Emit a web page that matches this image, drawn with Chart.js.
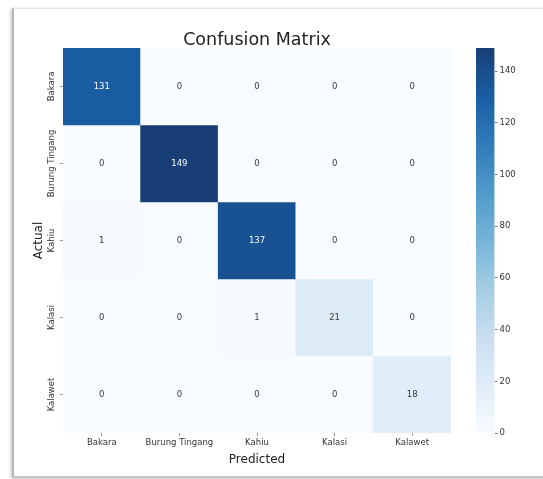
<!DOCTYPE html>
<html>
<head>
<meta charset="utf-8">
<script src="https://cdn.jsdelivr.net/npm/chart.js@4.4.1/dist/chart.umd.min.js"></script>
<style>
  html, body { margin: 0; padding: 0; background: #fff; width: 543px; height: 479px; overflow: hidden; }
  #card {
    position: absolute; left: 12px; top: 8px; width: 600px; height: 467px;
    background: #fff;
    border-left: 2px solid #b8b8b8;
    border-top: 1px solid #e2e2e2;
    border-bottom: 2px solid #c6c6c6;
    box-shadow: -1px 1px 3px rgba(0,0,0,0.25);
  }
  canvas { position: absolute; top: 0; }
  #cm { left: 0; }
  #cbar { left: 476px; }
</style>
</head>
<body>
<div id="card"></div>
<canvas id="cm" width="543" height="479"></canvas>
<canvas id="cbar" width="67" height="479"></canvas>
<script>
// Class names (shared by rows = actual and columns = predicted)
const classNames = ['Bakara', 'Burung Tingang', 'Kahiu', 'Kalasi', 'Kalawet'];

// Confusion counts, one row per actual class
const rowBakara        = [131,   0,   0,  0,  0];
const rowBurungTingang = [  0, 149,   0,  0,  0];
const rowKahiu         = [  1,   0, 137,  0,  0];
const rowKalasi        = [  0,   0,   1, 21,  0];
const rowKalawet       = [  0,   0,   0,  0, 18];
const counts = [rowBakara, rowBurungTingang, rowKahiu, rowKalasi, rowKalawet];

// Colour bar tick values
const colorbarTicks = [0, 20, 40, 60, 80, 100, 120, 140];

const FONT = 'DejaVu Sans';
Chart.defaults.font.family = FONT;

const vmax = Math.max(...counts.flat());

// "Blues" sequential colour map
const bluesStops = ['#f7fbff', '#deebf7', '#c6dbef', '#9ecae1', '#6baed6',
                    '#4292c6', '#2171b5', '#08519c', '#08306b'];
function hexRgb(h) {
  return [parseInt(h.slice(1, 3), 16), parseInt(h.slice(3, 5), 16), parseInt(h.slice(5, 7), 16)];
}
function bluesRgb(t) {
  t = Math.max(0, Math.min(1, t));
  const pos = t * (bluesStops.length - 1);
  const i = Math.min(Math.floor(pos), bluesStops.length - 2);
  const f = pos - i;
  const a = hexRgb(bluesStops[i]), b = hexRgb(bluesStops[i + 1]);
  // slight lift toward white
  return a.map((v, k) => {
    const c = v + (b[k] - v) * f;
    return c + (255 - c) * 0.07;
  });
}
function blues(t) {
  const c = bluesRgb(t).map(Math.round);
  return `rgb(${c[0]},${c[1]},${c[2]})`;
}
function luminance(rgb) {
  const l = rgb.map(v => {
    v /= 255;
    return v <= 0.03928 ? v / 12.92 : Math.pow((v + 0.055) / 1.055, 2.4);
  });
  return 0.2126 * l[0] + 0.7152 * l[1] + 0.0722 * l[2];
}

// Count written in the middle of each cell
const cellLabels = {
  id: 'cellLabels',
  afterDatasetsDraw(chart) {
    const ctx = chart.ctx;
    ctx.save();
    ctx.font = `8.5px "${FONT}"`;
    ctx.textAlign = 'center';
    ctx.textBaseline = 'middle';
    chart.data.datasets.forEach((ds, r) => {
      const meta = chart.getDatasetMeta(r);
      meta.data.forEach((bar, c) => {
        const v = counts[r][c];
        const p = bar.getProps(['x', 'y', 'base'], true);
        ctx.fillStyle = luminance(bluesRgb(v / vmax)) < 0.408 ? '#ffffff' : '#3a3a3a';
        ctx.fillText(String(v), p.x, (p.y + p.base) / 2);
      });
    });
    ctx.restore();
  }
};

// Vertical class names along the left axis
const rowTickLabels = {
  id: 'rowTickLabels',
  afterDraw(chart) {
    const ctx = chart.ctx;
    const ys = chart.scales.y;
    ctx.save();
    ctx.font = `8.5px "${FONT}"`;
    ctx.fillStyle = '#333';
    ctx.textAlign = 'center';
    ctx.textBaseline = 'middle';
    classNames.forEach((name, i) => {
      const y = ys.getPixelForValue(i + 0.5);
      ctx.save();
      ctx.translate(52, y);
      ctx.rotate(-Math.PI / 2);
      ctx.fillText(name, 0, 0);
      ctx.restore();
    });
    ctx.restore();
  }
};

// Title centred over the matrix
const matrixTitle = {
  id: 'matrixTitle',
  afterDraw(chart) {
    const ctx = chart.ctx;
    const a = chart.chartArea;
    ctx.save();
    ctx.font = `17.5px "${FONT}"`;
    ctx.fillStyle = '#222';
    ctx.textAlign = 'center';
    ctx.textBaseline = 'alphabetic';
    ctx.fillText('Confusion Matrix', (a.left + a.right) / 2, 45);
    ctx.restore();
  }
};

new Chart(document.getElementById('cm'), {
  type: 'bar',
  data: {
    labels: classNames,
    datasets: counts.map((row, r) => ({
      label: classNames[r],
      data: row.map(() => [r, r + 1]),
      backgroundColor: row.map(v => blues(v / vmax)),
      borderWidth: 0,
      borderSkipped: false,
      barPercentage: 1,
      categoryPercentage: 1,
      grouped: false
    }))
  },
  options: {
    responsive: false,
    animation: false,
    devicePixelRatio: 1,
    layout: { padding: { top: 48, right: 92, left: 0, bottom: 0 } },
    plugins: {
      legend: { display: false },
      tooltip: { enabled: false },
      title: { display: false }
    },
    scales: {
      x: {
        type: 'category',
        offset: true,
        grid: { display: true, drawOnChartArea: false, drawTicks: true, tickLength: 3, color: '#9a9a9a', offset: false },
        border: { display: false },
        ticks: { font: { family: FONT, size: 8.5 }, color: '#333', padding: 2, maxRotation: 0, autoSkip: false },
        title: { display: true, text: 'Predicted', font: { family: FONT, size: 12 }, color: '#222', padding: { top: 0, bottom: 12.3 } },
        afterFit: s => { s.height = 46; }
      },
      y: {
        type: 'linear',
        min: 0,
        max: classNames.length,
        reverse: true,
        afterBuildTicks: s => { s.ticks = classNames.map((_, i) => ({ value: i + 0.5 })); },
        ticks: { display: false },
        grid: { display: true, drawOnChartArea: false, drawTicks: true, tickLength: 3, color: '#9a9a9a' },
        border: { display: false },
        title: { display: true, text: 'Actual', font: { family: FONT, size: 12 }, color: '#222', padding: { top: 31.3, bottom: 0 } },
        afterFit: s => { s.width = 63; }
      }
    }
  },
  plugins: [cellLabels, rowTickLabels, matrixTitle]
});

// Colour bar
new Chart(document.getElementById('cbar'), {
  type: 'bar',
  data: {
    labels: [''],
    datasets: [{
      data: [[0, vmax]],
      backgroundColor: c => {
        const a = c.chart.chartArea;
        if (!a) return blues(0.5);
        const g = c.chart.ctx.createLinearGradient(0, a.bottom, 0, a.top);
        for (let k = 0; k <= 32; k++) g.addColorStop(k / 32, blues(k / 32));
        return g;
      },
      borderWidth: 0,
      borderSkipped: false,
      barPercentage: 1,
      categoryPercentage: 1
    }]
  },
  options: {
    responsive: false,
    animation: false,
    devicePixelRatio: 1,
    layout: { padding: { top: 48, bottom: 46, left: 0, right: 0 } },
    plugins: { legend: { display: false }, tooltip: { enabled: false } },
    scales: {
      x: { display: false },
      y: {
        position: 'right',
        min: 0,
        max: vmax,
        afterBuildTicks: s => { s.ticks = colorbarTicks.map(v => ({ value: v })); },
        ticks: { font: { family: FONT, size: 8.5 }, color: '#333', padding: 2 },
        grid: { display: true, drawOnChartArea: false, drawTicks: true, tickLength: 3, color: '#777' },
        border: { display: false },
        afterFit: s => { s.width = 48.5; }
      }
    }
  }
});
</script>
</body>
</html>
